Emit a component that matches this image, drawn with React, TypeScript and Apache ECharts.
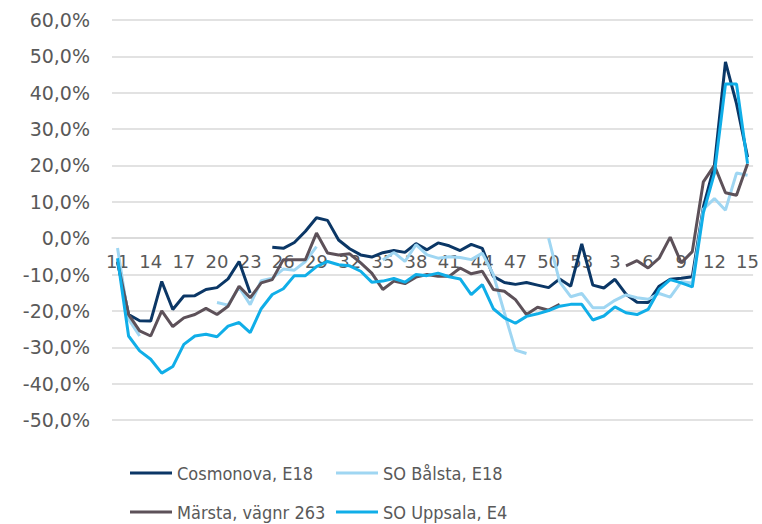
import React, { useEffect, useRef } from "react";
import * as echarts from "echarts";

const weeks: string[] = [
  "11","12","13","14","15","16","17","18","19","20","21","22","23","24","25","26","27","28","29","30",
  "31","32","33","34","35","36","37","38","39","40","41","42","43","44","45","46","47","48","49","50",
  "51","52","53","1","2","3","4","5","6","7","8","9","10","11","12","13","14","15",
];

const cosmonova: (number | null)[] = [
  -6.5, -21, -22.7, -22.8, -11.9, -19.6, -15.9, -15.8, -14.1, -13.6,
  -11.2, -6.4, -15.1, null, -2.5, -2.8, -1.2, 1.9, 5.6, 4.9,
  -0.5, -2.9, -4.6, -5.2, -4.0, -3.4, -3.9, -1.5, -3.2, -1.3,
  -2.1, -3.4, -1.7, -2.8, -10.5, -12.2, -12.7, -12.2, -12.9, -13.6,
  -11.2, -13.2, -1.6, -12.9, -13.7, -11.3, -15.4, -17.6, -17.7, -13.2,
  -11.3, -11.0, -10.6, 8.6, 20, 48.5, 37, 22.3,
];

const bålsta: (number | null)[] = [
  -2.7, -22.3, -26.9, null, null, null, null, null, null, -17.7,
  -18.4, -13.5, -18.3, -11.7, -11, -8.5, -8.8, -6.4, -2.3, null,
  null, null, null, null, -6, -3.9, -6.4, -1.8, -4.6, -5.5,
  -5.1, -5.3, -5.9, -4.1, -10, -20.5, -30.8, -31.7, null, 0,
  -12, -16.1, -15.2, -19.1, -19.1, -17.1, -15.6, -16.4, -16.8, -15.2,
  -16.2, -12, -12.3, 8, 10.9, 7.7, 17.9, 17.3,
];

const märsta: (number | null)[] = [
  -6.4, -21, -25.5, -26.9, -20, -24.3, -21.9, -21, -19.3, -21,
  -18.7, -13.2, -16.4, -12.3, -11.4, -5.9, -5.9, -5.9, 1.4, -4.1,
  -4.6, -4.3, -6.8, -9.6, -14.1, -11.8, -12.5, -10.7, -10, -10.5,
  -10.5, -8.2, -9.8, -9.1, -14.1, -14.6, -16.9, -21, -19, -19.8,
  -18.2, null, null, null, null, null, -7.6, -6.2, -8.2, -5.5,
  0.3, -6.8, -3.7, 15.5, 20, 12.5, 11.8, 20.5,
];

const uppsala: (number | null)[] = [
  -5.5, -26.9, -31, -33.3, -37.1, -35.3, -29.2, -26.9, -26.4, -27.1,
  -24.2, -23.2, -26, -19.4, -15.5, -13.9, -10.3, -10.3, -7.8, -6.4,
  -7.3, -7.6, -9.1, -12.1, -11.8, -11.1, -12.1, -10, -10.3, -9.6,
  -10.6, -11.2, -15.5, -12.8, -19.4, -21.9, -23.4, -21.5, -20.8, -19.9,
  -18.7, -18.2, -18.2, -22.5, -21.4, -18.9, -20.5, -21, -19.6, -14.1,
  -11.4, -12.3, -13.4, 7, 17.8, 42.4, 42.4, 20.5,
];

const seriesNames = ["Cosmonova, E18", "SO Bålsta, E18", "Märsta, vägnr 263", "SO Uppsala, E4"];
const seriesData = [cosmonova, bålsta, märsta, uppsala];
const colors = ["#0b3766", "#9fd6f2", "#5d5159", "#10aee8"];

const yMin = -50;
const yMax = 60;

const legendFont = "'DejaVu Sans Condensed', 'Noto Sans', sans-serif";
const axisFont = "'DejaVu Sans', Verdana, sans-serif";

export default function App() {
  const ref = useRef<HTMLDivElement>(null);
  useEffect(() => {
    if (!ref.current) return;
    const chart = echarts.init(ref.current, undefined, { renderer: "svg" });
    const gridTop = 20;
    const gridBottom = 104;
    const gridH = 524 - gridTop - gridBottom;
    // place the category axis on the 0 line
    const zeroOffset = -(gridH * (0 - yMin)) / (yMax - yMin);
    const legendPos = [
      { left: 130, top: 464 },
      { left: 336, top: 464 },
      { left: 130, top: 503 },
      { left: 336, top: 503 },
    ];
    chart.setOption({
      animation: false,
      backgroundColor: "#ffffff",
      color: colors,
      grid: { left: 112, right: 7, top: gridTop, bottom: gridBottom, containLabel: false },
      legend: seriesNames.map((n, i) => ({
        data: [n],
        left: legendPos[i].left,
        top: legendPos[i].top,
        padding: 0,
        icon: "rect",
        itemWidth: 42,
        itemHeight: 3,
        textStyle: { fontFamily: legendFont, fontSize: 18, color: "#595959" },
      })),
      xAxis: {
        type: "category",
        data: weeks,
        boundaryGap: true,
        offset: zeroOffset,
        axisLine: { show: true, onZero: false, lineStyle: { color: "#d9d9d9", width: 1.5 } },
        axisTick: { show: false },
        axisLabel: {
          interval: 2,
          margin: 14,
          fontFamily: axisFont,
          fontSize: 18,
          color: "#595959",
        },
        splitLine: { show: false },
      },
      yAxis: {
        type: "value",
        min: yMin,
        max: yMax,
        interval: 10,
        axisLine: { show: false },
        axisTick: { show: false },
        axisLabel: {
          margin: 22,
          fontFamily: axisFont,
          fontSize: 19,
          color: "#595959",
          formatter: (v: number) => v.toFixed(1).replace(".", ",") + "%",
        },
        splitLine: { show: true, lineStyle: { color: "#d9d9d9", width: 1.5 } },
      },
      series: seriesNames.map((n, i) => ({
        name: n,
        type: "line",
        data: seriesData[i],
        showSymbol: false,
        symbol: "none",
        connectNulls: false,
        lineStyle: { width: 3, color: colors[i] },
        itemStyle: { color: colors[i] },
        z: 3,
      })),
    });
    return () => chart.dispose();
  }, []);
  return (
    <div
      ref={ref}
      style={{ position: "fixed", left: 0, top: 0, width: 762, height: 524 }}
    />
  );
}
